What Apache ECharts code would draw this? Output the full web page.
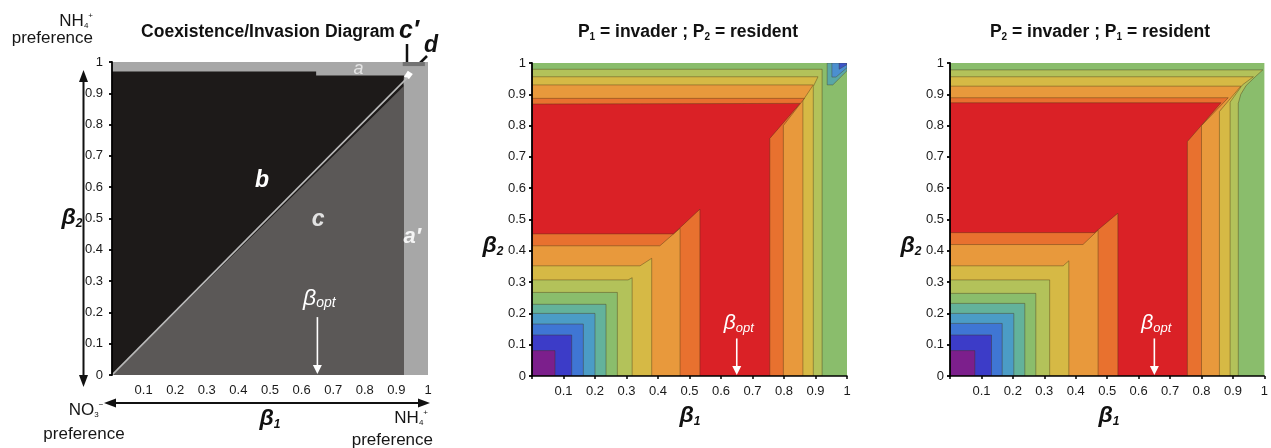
<!DOCTYPE html>
<html><head><meta charset="utf-8"><title>Coexistence / Invasion</title>
<script src="https://cdn.jsdelivr.net/npm/echarts@6.0.0/dist/echarts.min.js"></script>
<style>html,body{margin:0;padding:0;background:#fff;}#chart{width:1271px;height:448px;}</style>
</head><body><div id="chart"></div>
<script>
// ================= DATA =================
const tickValues = [0,0.1,0.2,0.3,0.4,0.5,0.6,0.7,0.8,0.9,1];
const yTickLabels = ['0','0.1','0.2','0.3','0.4','0.5','0.6','0.7','0.8','0.9','1'];
const xTickLabels = ['','0.1','0.2','0.3','0.4','0.5','0.6','0.7','0.8','0.9','1'];
const betaOpt = 0.65;

// Panel 1: coexistence / invasion regions, vertices in (beta1, beta2)
const regionA = [[0,0],[1,0],[1,1],[0,1]];
const regionC = [[0,0],[0.924,0],[0.924,0.93]];
const regionB = [[0,0],[0.922,0.922],[0.924,0.957],[0.646,0.957],[0.646,0.970],[0,0.970]];
const regionCprime = [[0.92,0.987],[0.99,0.987],[0.99,1],[0.92,1]];
const regionD = [[0.924,0.953],[0.94,0.946],[0.952,0.962],[0.936,0.972]];
const diagonal = [[0,0],[0.935,0.95]];
const regionLabels = ['a','b','c',"a\u2032"];
const regionLabelAt = [[0.78,0.977],[0.475,0.62],[0.652,0.496],[0.95,0.44]];

// Panel 2 (P1 invader): contour levels
// lower-left sub-level squares [beta1 edge, beta2 edge]: teal, tealBlue, blue, darkBlue, purple
const p1Squares = [[0.235,0.229],[0.2,0.2],[0.163,0.166],[0.126,0.131],[0.073,0.081]];
// super-level regions: yellowGreen, yellow, lightOrange, darkOrange, red
const p1Outer = [
  [[0,0.98],[0.921,0.98],[0.921,0]],
  [[0,0.956],[0.908,0.956],[0.893,0.925],[0.893,0]],
  [[0,0.93],[0.893,0.93],[0.86,0.88],[0.86,0]],
  [[0,0.887],[0.865,0.887],[0.798,0.80],[0.798,0]],
  [[0,0.869],[0.851,0.871],[0.755,0.759],[0.755,0]]
];
const p1Inner = [
  [[0.271,0],[0.271,0.267],[0,0.267]],
  [[0.318,0],[0.318,0.314],[0.305,0.307],[0,0.307]],
  [[0.38,0],[0.38,0.376],[0.343,0.352],[0,0.352]],
  [[0.47,0],[0.47,0.472],[0.406,0.416],[0,0.416]],
  [[0.533,0],[0.533,0.533],[0.449,0.454],[0,0.454]]
];
// small low-level patch in the top-right corner: teal, tealBlue, blue
const p1CornerPatch = [
  [[0.937,1],[0.937,0.93],[0.955,0.93],[1,0.975],[1,1]],
  [[0.952,1],[0.952,0.955],[0.965,0.955],[1,0.985],[1,1]],
  [[0.975,1],[0.975,0.98],[1,0.995],[1,1]]
];

// Panel 3 (P2 invader): contour levels
const p2Squares = [[0.238,0.232],[0.203,0.2],[0.166,0.168],[0.132,0.131],[0.079,0.081]];
const p2Outer = [
  [[0,0.978],[0.995,0.978],[0.97,0.955],[0.942,0.928],[0.925,0.9],[0.917,0.871],[0.917,0]],
  [[0,0.956],[0.965,0.956],[0.93,0.93],[0.891,0.875],[0.891,0]],
  [[0,0.926],[0.925,0.926],[0.857,0.845],[0.857,0]],
  [[0,0.889],[0.885,0.889],[0.80,0.80],[0.80,0]],
  [[0,0.873],[0.862,0.873],[0.755,0.749],[0.755,0]]
];
const p2Inner = [
  [[0.273,0],[0.273,0.264],[0,0.264]],
  [[0.317,0],[0.317,0.307],[0,0.307]],
  [[0.378,0],[0.378,0.368],[0.36,0.352],[0,0.352]],
  [[0.471,0],[0.471,0.466],[0.423,0.42],[0,0.42]],
  [[0.534,0],[0.534,0.52],[0.46,0.458],[0,0.458]]
];

// ================= STYLE =================
const FONT = '"Liberation Sans", Arial, Helvetica, sans-serif';
const grayA = '#a7a7a7', grayC = '#5b5857', blackB = '#1d1a19';
const squareColors = ['#63b29b','#4b9cc6','#3f76d4','#3c3cc8','#7c1f8c'];
const bandColors = ['#b3c25a','#d6b945','#e8993c','#e8712f','#da2126'];
const greenBase = '#8abd6c';
const patchColors = ['#5aa7a6','#4b8fd0','#3c55c8'];
const contourStroke = 'rgba(70,50,20,0.45)';
const grids = [
  {left:112, top:62, width:316, height:313},
  {left:532, top:63, width:315, height:313},
  {left:950, top:63, width:315, height:313}
];

// ================= BUILD =================
function rect(a,b){ return [[0,0],[a,0],[a,b],[0,b]]; }
function polySeries(gi, shapes){
  return {
    type:'custom', xAxisIndex:gi, yAxisIndex:gi, silent:true, animation:false, clip:true, z:1,
    data: shapes.map(s => s.pts[0]), encode:{x:0, y:1},
    renderItem(params, api){
      const s = shapes[params.dataIndex];
      const pts = s.pts.map(p => api.coord(p));
      if (s.line) return {type:'polyline', shape:{points:pts}, style:{stroke:s.stroke, lineWidth:s.lw, fill:null}};
      return {type:'polygon', shape:{points:pts}, style:{fill:s.fill, stroke:s.stroke || null, lineWidth:s.lw || 0}};
    }
  };
}
function contourShapes(squares, outer, inner, patch){
  const shapes = [{pts:rect(1,1), fill:greenBase}];
  outer.forEach((o,i) => shapes.push({pts:o.concat(inner[i]), fill:bandColors[i], stroke:contourStroke, lw:0.9}));
  squares.forEach((s,i) => shapes.push({pts:rect(s[0],s[1]), fill:squareColors[i], stroke:contourStroke, lw:0.9}));
  (patch||[]).forEach((p,i) => shapes.push({pts:p, fill:patchColors[i], stroke:contourStroke, lw:0.8}));
  return shapes;
}
function betaOptSeries(gi, textY, arrowTop, big){
  return {
    type:'custom', xAxisIndex:gi, yAxisIndex:gi, silent:true, animation:false, z:3,
    data:[[betaOpt, 0]],
    renderItem(params, api){
      const tip = api.coord([betaOpt, 0]);
      const top = api.coord([betaOpt, arrowTop]);
      const t = api.coord([betaOpt, textY]);
      const hl = 10, hw = 4.5;
      return {type:'group', children:[
        {type:'line', shape:{x1:top[0], y1:top[1], x2:tip[0], y2:tip[1]-hl+1}, style:{stroke:'#fff', lineWidth:1.6}},
        {type:'polygon', shape:{points:[[tip[0],tip[1]-1],[tip[0]-hw,tip[1]-hl],[tip[0]+hw,tip[1]-hl]]}, style:{fill:'#fff'}},
        {type:'text', x:t[0]+2, y:t[1], style:{text:'\u03b2{s|opt}', fill:'#fff', font:'italic ' + (big?23:21) + 'px ' + FONT,
          align:'center', verticalAlign:'middle', lineHeight:24,
          rich:{s:{fill:'#fff', fontStyle:'italic', fontSize:big?14:13, fontFamily:FONT, verticalAlign:'bottom', lineHeight:12}}}}
      ]};
    }
  };
}
function labelSeries(gi){
  const styles = [
    {font:'italic 18px ' + FONT, fill:'#e4e4e4'},
    {font:'bold italic 23px ' + FONT, fill:'#ffffff'},
    {font:'bold italic 23px ' + FONT, fill:'#e2e2e2'},
    {font:'bold italic 22px ' + FONT, fill:'#f4f4f4'}
  ];
  return {
    type:'custom', xAxisIndex:gi, yAxisIndex:gi, silent:true, animation:false, z:3,
    data: regionLabelAt,
    renderItem(params, api){
      const i = params.dataIndex;
      const p = api.coord(regionLabelAt[i]);
      return {type:'text', x:p[0], y:p[1], style:Object.assign({text:regionLabels[i], align:'center', verticalAlign:'middle'}, styles[i])};
    }
  };
}
function xAxis(gi, showLine){
  return {gridIndex:gi, type:'value', min:0, max:1, interval:0.1, z:5,
    axisLine:{show:showLine, onZero:false, lineStyle:{color:'#000', width:1.5}},
    axisTick:{show:showLine, length:3, lineStyle:{color:'#000', width:1.5}},
    splitLine:{show:false},
    axisLabel:{margin:9, fontSize:13, color:'#1a1a1a', fontFamily:FONT,
      formatter: v => xTickLabels[Math.round(v*10)]}};
}
function yAxis(gi, margin){
  return {gridIndex:gi, type:'value', min:0, max:1, interval:0.1, z:5,
    axisLine:{show:true, onZero:false, lineStyle:{color:'#000', width:1.8}},
    axisTick:{show:true, length:3, lineStyle:{color:'#000', width:1.8}},
    splitLine:{show:false},
    axisLabel:{margin:margin, fontSize:13, color:'#1a1a1a', fontFamily:FONT,
      formatter: v => yTickLabels[Math.round(v*10)]}};
}

const panel1 = [
  {pts:regionA, fill:grayA},
  {pts:regionC, fill:grayC},
  {pts:regionB, fill:blackB},
  {pts:regionCprime, fill:'#727272'},
  {pts:regionD, fill:'#ffffff'},
  {pts:diagonal, line:true, stroke:'#b9b9b9', lw:1.6}
];

// graphic helpers (outside-plot decorations)
function arrowHead(x, y, dir){ // dir: 'up','down','left','right'
  const L = 12, W = 4.5;
  let pts;
  if (dir==='up') pts = [[x,y],[x-W,y+L],[x+W,y+L]];
  if (dir==='down') pts = [[x,y],[x-W,y-L],[x+W,y-L]];
  if (dir==='left') pts = [[x,y],[x+L,y-W],[x+L,y+W]];
  if (dir==='right') pts = [[x,y],[x-L,y-W],[x-L,y+W]];
  return {type:'polygon', shape:{points:pts}, style:{fill:'#111'}};
}
function txt(x, y, text, font, align, rich, extra){
  return {type:'text', x:x, y:y, style:Object.assign({text:text, font:font, fill:'#161616', align:align||'center', verticalAlign:'middle', rich:rich||{}}, extra||{})};
}
const richIon = {
  b:{fontSize:8, fontFamily:FONT, verticalAlign:'bottom', lineHeight:9, fill:'#161616'},
  p:{fontSize:8, fontFamily:FONT, verticalAlign:'top', lineHeight:9, fill:'#161616'}
};
const richBeta = {
  s:{fontSize:12, fontWeight:'bold', fontStyle:'italic', fontFamily:FONT, verticalAlign:'bottom', lineHeight:12, fill:'#111'}
};
const richTitle = {
  s:{fontSize:10, fontWeight:'bold', fontFamily:FONT, verticalAlign:'bottom', lineHeight:10, fill:'#111'}
};
const fTitle = 'bold 17.5px ' + FONT;
const fBeta = 'bold italic 23px ' + FONT;
const fPref = '17px ' + FONT;

const graphic = [
  // titles
  txt(268, 32, 'Coexistence/Invasion Diagram', fTitle, 'center', null, {fill:'#111', lineHeight:20}),
  txt(688, 32, 'P{s|1} = invader ; P{s|2} = resident', fTitle, 'center', richTitle, {fill:'#111', lineHeight:20}),
  txt(1100, 32, 'P{s|2} = invader ; P{s|1} = resident', fTitle, 'center', richTitle, {fill:'#111', lineHeight:20}),
  // c' and d markers
  txt(409, 31, 'c\u2032', 'bold italic 25px ' + FONT, 'center', null, {fill:'#111'}),
  txt(431, 46, 'd', 'bold italic 23px ' + FONT, 'center', null, {fill:'#111'}),
  {type:'line', shape:{x1:407, y1:44, x2:407, y2:64}, style:{stroke:'#111', lineWidth:2.5}},
  {type:'line', shape:{x1:427, y1:56, x2:411, y2:72}, style:{stroke:'#111', lineWidth:2.5}},
  // axis titles
  txt(72, 218, '\u03b2{s|2}', fBeta, 'center', richBeta, {fill:'#111', lineHeight:24}),
  txt(270, 419, '\u03b2{s|1}', fBeta, 'center', richBeta, {fill:'#111', lineHeight:24}),
  txt(493, 246, '\u03b2{s|2}', fBeta, 'center', richBeta, {fill:'#111', lineHeight:24}),
  txt(690, 416, '\u03b2{s|1}', fBeta, 'center', richBeta, {fill:'#111', lineHeight:24}),
  txt(911, 246, '\u03b2{s|2}', fBeta, 'center', richBeta, {fill:'#111', lineHeight:24}),
  txt(1109, 416, '\u03b2{s|1}', fBeta, 'center', richBeta, {fill:'#111', lineHeight:24}),
  // preference arrows (panel 1)
  {type:'line', shape:{x1:83.5, y1:80, x2:83.5, y2:378}, style:{stroke:'#111', lineWidth:2}},
  arrowHead(83.5, 70, 'up'), arrowHead(83.5, 387, 'down'),
  {type:'line', shape:{x1:112, y1:403, x2:420, y2:403}, style:{stroke:'#111', lineWidth:2}},
  arrowHead(104, 403, 'left'), arrowHead(430, 403, 'right'),
  // preference texts
  txt(93, 21, 'NH{b|4}{p|+}', fPref, 'right', richIon, {lineHeight:18}),
  txt(93, 38, 'preference', fPref, 'right'),
  txt(86, 410, 'NO{b|3}{p|\u2212}', fPref, 'center', richIon, {lineHeight:18}),
  txt(84, 434, 'preference', fPref, 'center'),
  txt(428, 418, 'NH{b|4}{p|+}', fPref, 'right', richIon, {lineHeight:18}),
  txt(433, 440, 'preference', fPref, 'right')
];

const option = {
  animation:false,
  backgroundColor:'#ffffff',
  grid: grids,
  xAxis: [xAxis(0,false), xAxis(1,true), xAxis(2,true)],
  yAxis: [yAxis(0,9), yAxis(1,6), yAxis(2,6)],
  series: [
    polySeries(0, panel1),
    labelSeries(0),
    betaOptSeries(0, 0.245, 0.185, true),
    polySeries(1, contourShapes(p1Squares, p1Outer, p1Inner, p1CornerPatch)),
    betaOptSeries(1, 0.17, 0.12, false),
    polySeries(2, contourShapes(p2Squares, p2Outer, p2Inner, null)),
    betaOptSeries(2, 0.17, 0.12, false)
  ],
  graphic: graphic
};
const chart = echarts.init(document.getElementById('chart'));
chart.setOption(option);
</script>
</body></html>
